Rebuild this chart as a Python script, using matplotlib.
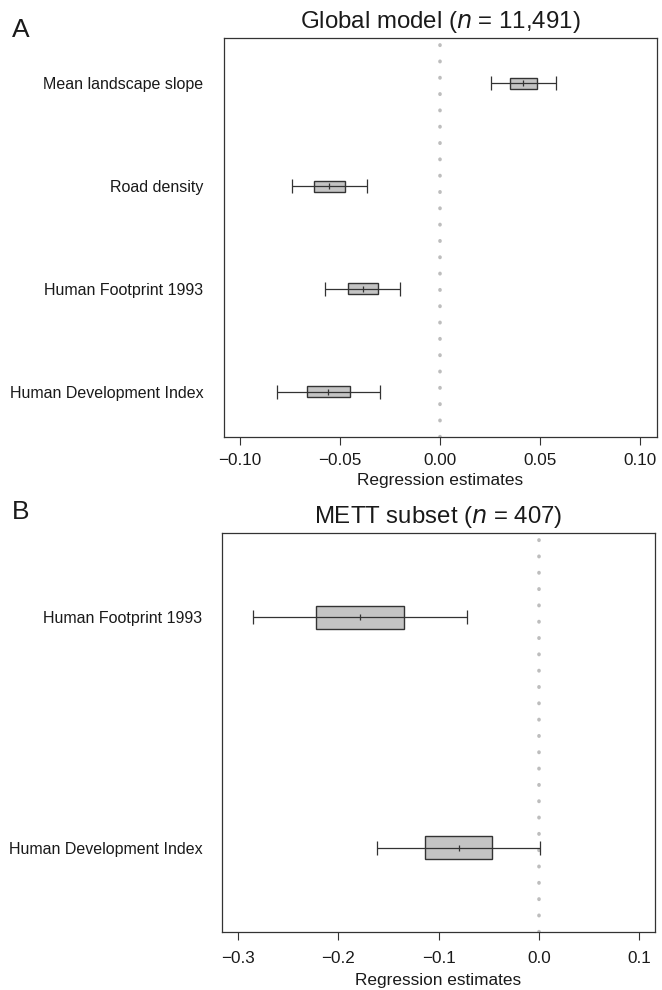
import matplotlib
matplotlib.use("Agg")
import matplotlib.pyplot as plt

plt.rcParams['font.family'] = ['Liberation Sans', 'DejaVu Sans']
plt.rcParams['lines.scale_dashes'] = False

# Panel A: Global model
a_labels = ["Mean landscape slope", "Road density", "Human Footprint 1993", "Human Development Index"]
a_whislo = [0.0253, -0.0742, -0.0575, -0.0817]
a_q1 = [0.0350, -0.0630, -0.0462, -0.0663]
a_med = [0.0417, -0.0553, -0.0387, -0.0558]
a_q3 = [0.0483, -0.0475, -0.0308, -0.0452]
a_whishi = [0.0578, -0.0367, -0.0200, -0.0300]
a_ticks = [-0.10, -0.05, 0.00, 0.05, 0.10]
a_ticklabels = ["\u22120.10", "\u22120.05", "0.00", "0.05", "0.10"]

# Panel B: METT subset
b_labels = ["Human Footprint 1993", "Human Development Index"]
b_whislo = [-0.2857, -0.1617]
b_q1 = [-0.2223, -0.1133]
b_med = [-0.1783, -0.0800]
b_q3 = [-0.1347, -0.0467]
b_whishi = [-0.0720, 0.0010]
b_ticks = [-0.3, -0.2, -0.1, 0.0, 0.1]
b_ticklabels = ["\u22120.3", "\u22120.2", "\u22120.1", "0.0", "0.1"]

W, H = 662, 990
fig = plt.figure(figsize=(W / 100, H / 100), dpi=100)

DARK = "#333333"
FILL = "#c4c4c4"


def panel(rect, labels, lo, q1, med, q3, hi, ticks, ticklabels, xlim, margin,
          boxh, title, ylpad, xtpad, xlpad):
    ax = fig.add_axes(rect)
    n = len(labels)
    ys = list(range(n, 0, -1))
    ylim = (1 - margin, n + margin)
    # reference line at zero (grey dots)
    ax.plot([0, 0], ylim, color="#bdbdbd", lw=2.6,
            linestyle=(0, (0.3, 11.45)), dash_capstyle="round",
            solid_capstyle="round", zorder=1)
    widths = [b - a for a, b in zip(q1, q3)]
    ax.barh(ys, widths, left=q1, height=boxh, color=FILL, edgecolor=DARK,
            linewidth=1.0, zorder=2)
    ax.hlines(ys, lo, hi, color=DARK, lw=0.9, zorder=3)
    ax.plot(lo, ys, linestyle="none", marker="|", markersize=9.5,
            markeredgewidth=0.9, color=DARK, zorder=3)
    ax.plot(hi, ys, linestyle="none", marker="|", markersize=9.5,
            markeredgewidth=0.9, color=DARK, zorder=3)
    ax.plot(med, ys, linestyle="none", marker="|", markersize=4.5,
            markeredgewidth=0.9, color=DARK, zorder=4)
    ax.set_xlim(*xlim)
    ax.set_ylim(*ylim)
    ax.set_xticks(ticks)
    ax.set_xticklabels(ticklabels, fontsize=12.3, color="#1a1a1a")
    ax.set_yticks(ys)
    ax.set_yticklabels(labels, fontsize=11.5, color="#1a1a1a")
    ax.tick_params(axis="y", length=0, pad=ylpad)
    ax.tick_params(axis="x", length=5.5, width=0.8, color=DARK, pad=xtpad)
    for s in ax.spines.values():
        s.set_color(DARK)
        s.set_linewidth(0.9)
    ax.set_xlabel("Regression estimates", fontsize=12.4, color="#1a1a1a",
                  labelpad=xlpad)
    ax.set_title(title, fontsize=17.3, pad=7, color="#1a1a1a")
    return ax


panel([224 / W, 1 - 437 / H, 433 / W, 399 / H], a_labels, a_whislo, a_q1,
      a_med, a_q3, a_whishi, a_ticks, a_ticklabels, (-0.108, 0.1085), 0.44,
      0.107, "Global model ($\\it{n}$ = 11,491)", 15, 6, 3.5)

panel([222 / W, 1 - 932 / H, 433 / W, 399 / H], b_labels, b_whislo, b_q1,
      b_med, b_q3, b_whishi, b_ticks, b_ticklabels, (-0.3163, 0.116), 0.364,
      0.10, "METT subset ($\\it{n}$ = 407)", 14, 8.5, 5)

fig.text(12 / W, 1 - 37 / H, "A", fontsize=19, va="baseline", ha="left",
         color="#1a1a1a")
fig.text(12 / W, 1 - 519 / H, "B", fontsize=19, va="baseline", ha="left",
         color="#1a1a1a")

fig.savefig("out.png", dpi=100)
